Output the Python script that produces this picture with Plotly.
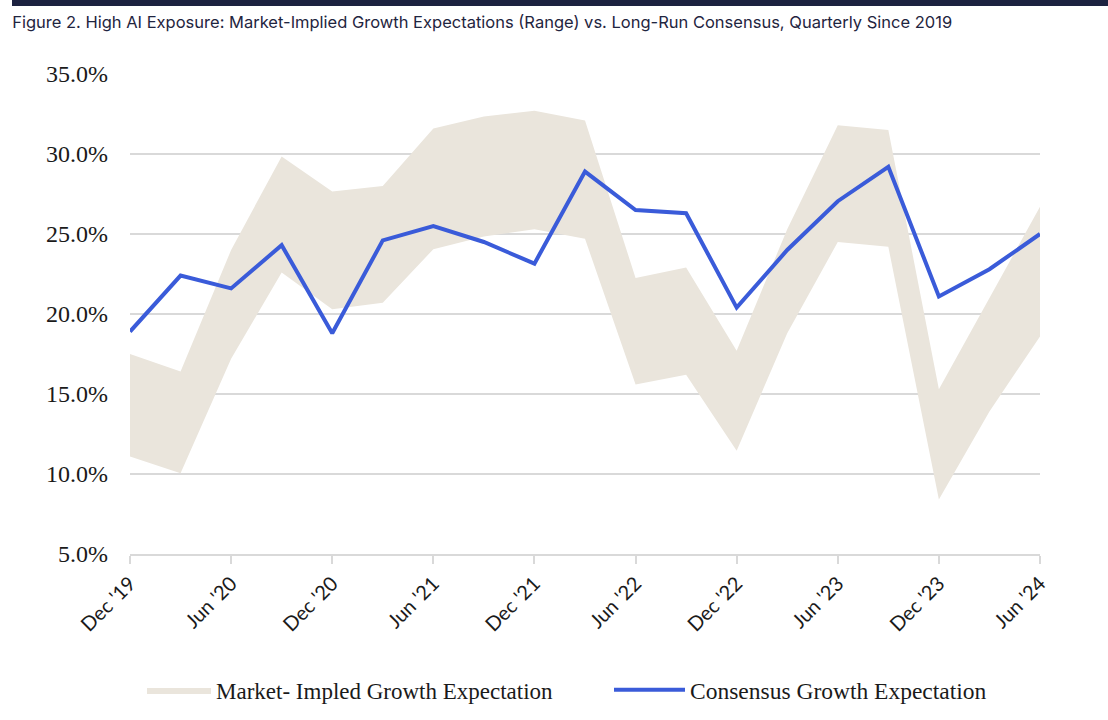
import plotly.graph_objects as go

quarters = ["Dec '19", "Mar '20", "Jun '20", "Sep '20", "Dec '20", "Mar '21", "Jun '21",
            "Sep '21", "Dec '21", "Mar '22", "Jun '22", "Sep '22", "Dec '22", "Mar '23",
            "Jun '23", "Sep '23", "Dec '23", "Mar '24", "Jun '24"]
consensus = [18.9, 22.4, 21.6, 24.3, 18.8, 24.6, 25.5, 24.5, 23.15, 28.9, 26.5, 26.3,
             20.4, 24.0, 27.05, 29.2, 21.1, 22.8, 25.0]
implied_high = [17.5, 16.4, 24.0, 29.85, 27.65, 28.0, 31.6, 32.35, 32.7, 32.1, 22.25, 22.9,
                17.7, 25.3, 31.8, 31.5, 15.3, 21.0, 26.7]
implied_low = [11.1, 10.05, 17.2, 22.6, 20.3, 20.7, 24.05, 24.85, 25.3, 24.7, 15.6, 16.2,
               11.45, 18.8, 24.5, 24.2, 8.4, 13.9, 18.6]
tick_labels = quarters[::2]
y_ticks = [5, 10, 15, 20, 25, 30, 35]
y_tick_text = [f"{v:.1f}%" for v in y_ticks]

BAND = "#EAE5DC"
LINE = "#3A5BD9"
GRID = "#D9D9D9"
LEG_FONT = dict(family="Liberation Serif", size=23, color="#1a1a1a")

fig = go.Figure()
fig.add_trace(go.Scatter(x=quarters, y=implied_low, mode="lines", line=dict(width=0, color=BAND),
                         showlegend=False, hoverinfo="skip"))
fig.add_trace(go.Scatter(x=quarters, y=implied_high, mode="lines", line=dict(width=0, color=BAND),
                         fill="tonexty", fillcolor=BAND, name="Market- Impled Growth Expectation",
                         legend="legend"))
fig.add_trace(go.Scatter(x=quarters, y=consensus, mode="lines", line=dict(width=4, color=LINE),
                         name="Consensus Growth Expectation", legend="legend2"))

fig.update_layout(
    width=1108, height=720,
    margin=dict(l=130, r=68, t=74, b=166),
    paper_bgcolor="white", plot_bgcolor="white",
    title=dict(text="Figure 2. High AI Exposure: Market-Implied Growth Expectations (Range) vs. Long-Run Consensus, Quarterly Since 2019",
               xref="container", x=0.011, xanchor="left", yref="container", y=1 - 22 / 720,
               yanchor="middle", font=dict(family="Inter", size=16.5, color="#1F2540")),
    xaxis=dict(type="category", range=[0, len(quarters) - 1], tickvals=tick_labels, ticktext=tick_labels,
               tickangle=-45, showgrid=False, showline=True, linecolor=GRID, linewidth=2,
               ticks="outside", ticklen=8, tickcolor=GRID, tickwidth=2, ticklabelstandoff=0,
               automargin=False,
               tickfont=dict(family="Lato", size=20, color="#1a1a1a")),
    yaxis=dict(range=[5, 35], tickvals=y_ticks, ticktext=y_tick_text,
               showgrid=True, gridcolor=GRID, gridwidth=2, zeroline=False, showline=False,
               ticks="", ticklabelstandoff=21, automargin=False,
               tickfont=dict(family="Liberation Serif", size=24, color="#1a1a1a")),
    legend=dict(orientation="h", xref="container", x=142 / 1108, xanchor="left",
                yref="container", y=1 - 690 / 720, yanchor="middle",
                font=LEG_FONT, itemwidth=64),
    legend2=dict(orientation="h", xref="container", x=609 / 1108, xanchor="left",
                 yref="container", y=1 - 690 / 720, yanchor="middle",
                 font=dict(LEG_FONT, size=23.5), itemwidth=71),
    shapes=[dict(type="rect", xref="paper", yref="paper", x0=(12 - 130) / 910, x1=(1108 - 130) / 910,
                 y0=(554 - 6) / 480, y1=(554 + 2) / 480, fillcolor="#1C2240", line=dict(width=0))],
)

fig.write_html("out.html")
